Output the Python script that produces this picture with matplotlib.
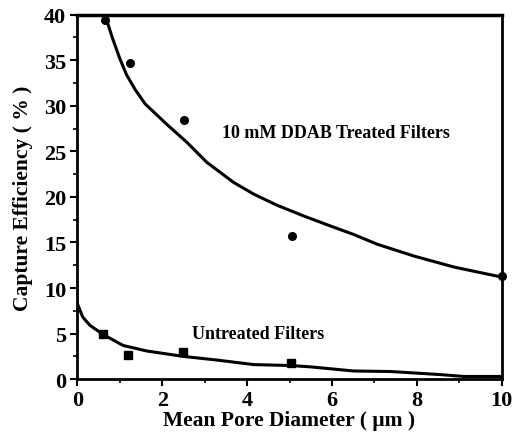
import matplotlib
matplotlib.use("Agg")
import matplotlib.pyplot as plt
from matplotlib.ticker import MultipleLocator

# Measured points
pore_treated = [0.65, 1.24, 2.52, 5.06, 10.0]
eff_treated = [39.4, 34.7, 28.4, 15.7, 11.3]
pore_untreated = [0.61, 1.19, 2.49, 5.04]
eff_untreated = [5.0, 2.6, 3.0, 1.8]

# Fitted curves
fit_treated_x = [0.65, 0.83, 1.0, 1.16, 1.36, 1.6, 2.1, 2.58, 3.05, 3.68, 4.16, 4.7, 5.34, 5.97,
                 6.5, 7.07, 7.94, 8.88, 10.0]
fit_treated_y = [40.0, 37.4, 35.2, 33.4, 31.8, 30.2, 28.0, 26.0, 23.8, 21.6, 20.3, 19.1, 17.9, 16.8,
                 15.9, 14.8, 13.5, 12.3, 11.2]
fit_untreated_x = [0.0, 0.13, 0.3, 0.61, 1.08, 1.63, 2.5, 3.29, 4.16, 5.02, 5.5, 6.51,
                   7.39, 8.57, 9.1, 10.0]
fit_untreated_y = [8.3, 6.8, 5.9, 4.9, 3.7, 3.1, 2.5, 2.1, 1.6, 1.5, 1.35, 0.9,
                   0.84, 0.5, 0.3, 0.3]

xticks = [0, 2, 4, 6, 8, 10]
yticks = [0, 5, 10, 15, 20, 25, 30, 35, 40]

plt.rcParams['font.family'] = ['Liberation Serif', 'DejaVu Serif']
plt.rcParams['font.weight'] = 'bold'

fig = plt.figure(figsize=(5.12, 4.35), dpi=100)
ax = fig.add_axes([0.151, 0.126, 0.829, 0.838])

ax.plot(fit_treated_x, fit_treated_y, color='black', lw=2.2, solid_joinstyle='round')
ax.plot(fit_untreated_x, fit_untreated_y, color='black', lw=2.2, solid_joinstyle='round')
ax.plot(pore_treated, eff_treated, 'o', color='black', ms=5.5, clip_on=False)
ax.plot(pore_untreated, eff_untreated, 's', color='black', ms=5.5, clip_on=False)

ax.text(3.41, 27.1, '10 mM DDAB Treated Filters', fontsize=13, fontweight='bold',
        va='center', ha='left')
ax.text(2.70, 5.05, 'Untreated Filters', fontsize=13, fontweight='bold',
        va='center', ha='left')

ax.set_xlim(0, 10)
ax.set_ylim(0, 40)
ax.set_xticks(xticks)
ax.set_yticks(yticks)
ax.xaxis.set_minor_locator(MultipleLocator(1))
ax.yaxis.set_minor_locator(MultipleLocator(2.5))
ax.tick_params(which='major', direction='out', length=5, width=1.5, labelsize=16, pad=3)
ax.tick_params(which='minor', direction='out', length=3, width=1.2)
for lab in ax.get_xticklabels() + ax.get_yticklabels():
    lab.set_fontweight('bold')
for s in ax.spines.values():
    s.set_linewidth(2)
ax.spines['top'].set_linewidth(2.5)

ax.set_xlabel('Mean Pore Diameter ( \u03bcm )', fontsize=15.5, fontweight='bold', labelpad=0)
ax.set_ylabel('Capture Efficiency ( % )', fontsize=15.5, fontweight='bold', labelpad=8)

fig.savefig('out.png', dpi=100)
